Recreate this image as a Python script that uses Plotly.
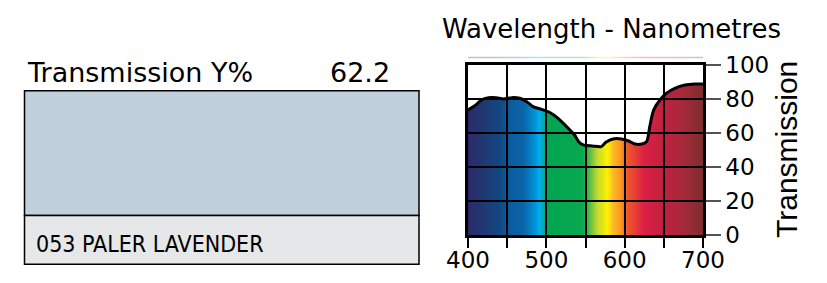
import plotly.graph_objects as go

W, H = 827, 283

# ---- data ----
wavelength = [400, 405, 410, 417, 426, 436, 445, 456, 466, 475, 483, 494, 504, 515,
              526, 536, 542, 548, 559, 570, 576, 585, 596, 605, 613, 622, 628, 632,
              637, 645, 653, 664, 677, 690, 700]
transmission = [73.5, 75.0, 76.5, 79.4, 80.8, 80.8, 80.0, 80.8, 80.4, 78.4, 75.5, 73.9,
                 72.2, 68.6, 63.7, 58.8, 54.5, 52.9, 52.4, 52.0, 54.5, 56.5, 56.5, 55.3,
                 53.5, 53.5, 54.9, 63.7, 73.5, 79.4, 83.3, 86.3, 88.2, 88.8, 88.8]

spectrum_nm = [400, 440, 450, 470, 485, 490, 497, 500, 545, 552, 565, 578, 585, 595,
               602, 625, 650, 675, 700]
spectrum_colors = ["#2b2a68", "#12477f", "#0a5a9c", "#0b65a8", "#0095d9", "#00aeef",
                   "#00a99d", "#00a651", "#0aa850", "#39b54a", "#c4d92e", "#fff200",
                   "#fdb827", "#f7941d", "#f15a29", "#dc1f45", "#c0203f", "#a52a3a",
                   "#7c2e2e"]

x_ticks = [400, 450, 500, 550, 600, 650, 700]
x_labels = ["400", "", "500", "", "600", "", "700"]
y_ticks = [0, 20, 40, 60, 80, 100]
y_labels = ["0", "20", "40", "60", "80", "100"]

title_text = "Wavelength - Nanometres"
y_title = "Transmission"
trans_label = "Transmission Y%"
trans_value = "62.2"
filter_name = "053 PALER LAVENDER"
swatch_color = "#bfcfdc"
name_bg = "#e6e7e9"


def px(x):
    return x / W


def py(y):
    return (H - y) / H


lo, hi = spectrum_nm[0], spectrum_nm[-1]
colorscale = [[(n - lo) / (hi - lo), c] for n, c in zip(spectrum_nm, spectrum_colors)]

fig = go.Figure()

# spectrum background
fig.add_trace(go.Heatmap(
    x=spectrum_nm, y=[0, 100], z=[spectrum_nm, spectrum_nm],
    colorscale=colorscale, zmin=lo, zmax=hi, zsmooth="best",
    showscale=False, hoverinfo="skip", xaxis="x", yaxis="y"))

# white mask above the curve
fig.add_trace(go.Scatter(x=[lo, hi], y=[100, 100], mode="lines",
                         line=dict(width=0), showlegend=False, hoverinfo="skip",
                         xaxis="x", yaxis="y"))
fig.add_trace(go.Scatter(x=wavelength, y=transmission, mode="lines",
                         line=dict(width=0, shape="spline", smoothing=0.8),
                         fill="tonexty", fillcolor="white", showlegend=False,
                         hoverinfo="skip", xaxis="x", yaxis="y"))

# curve on top subplot (above grid)
fig.add_trace(go.Scatter(x=wavelength, y=transmission, mode="lines",
                         line=dict(color="black", width=3, shape="spline", smoothing=0.8),
                         showlegend=False, hoverinfo="skip", xaxis="x2", yaxis="y2"))

# faint spectrum strip above the chart
fig.add_trace(go.Heatmap(
    x=spectrum_nm, y=[0, 1], z=[spectrum_nm, spectrum_nm],
    colorscale=colorscale, zmin=lo, zmax=hi, zsmooth="best", opacity=0.3,
    showscale=False, hoverinfo="skip", xaxis="x3", yaxis="y3"))

xdom = [px(468), px(703)]
ydom = [py(235), py(65)]

hidden = dict(showgrid=False, zeroline=False, showticklabels=False, ticks="",
              showline=False, automargin=False)

fig.update_layout(
    width=W, height=H,
    margin=dict(l=0, r=0, t=0, b=0, autoexpand=False),
    paper_bgcolor="white", plot_bgcolor="rgba(0,0,0,0)",
    showlegend=False,
    xaxis=dict(domain=xdom, range=[400, 700], anchor="y", **hidden),
    yaxis=dict(domain=ydom, range=[0, 100], anchor="x", **hidden),
    xaxis3=dict(domain=xdom, range=[400, 700], anchor="y3", **hidden),
    yaxis3=dict(domain=[py(58.5), py(56.5)], range=[0, 1], anchor="x3", **hidden),
    xaxis2=dict(domain=xdom, range=[400, 700], anchor="y2", automargin=False,
                tickvals=x_ticks, ticktext=x_labels,
                ticks="outside", ticklen=10, tickwidth=1.5, tickcolor="black",
                ticklabelstandoff=-7,
                showgrid=True, gridcolor="black", gridwidth=1.8,
                showline=True, linecolor="black", linewidth=2.5, mirror=True,
                zeroline=False,
                tickfont=dict(family="DejaVu Sans", size=23, color="black")),
    yaxis2=dict(domain=ydom, range=[0, 100], anchor="x2", side="right", automargin=False,
                tickvals=y_ticks, ticktext=y_labels,
                ticks="outside", ticklen=15, tickwidth=1.5, tickcolor="#555555",
                showgrid=True, gridcolor="black", gridwidth=1.8,
                showline=True, linecolor="black", linewidth=2.5, mirror=True,
                zeroline=False,
                tickfont=dict(family="DejaVu Sans", size=23, color="black")),
)

# left panel
fig.add_shape(type="rect", xref="paper", yref="paper",
              x0=px(24.5), x1=px(419), y0=py(215.5), y1=py(90.7),
              fillcolor=swatch_color, line=dict(color="black", width=1.5))
fig.add_shape(type="rect", xref="paper", yref="paper",
              x0=px(24.5), x1=px(419), y0=py(264.3), y1=py(215.5),
              fillcolor=name_bg, line=dict(color="black", width=1.5))

fig.add_annotation(text=trans_label, xref="paper", yref="paper",
                   x=px(25), y=py(73), xanchor="left", yanchor="middle",
                   showarrow=False, font=dict(family="DejaVu Sans", size=27, color="black"))
fig.add_annotation(text=trans_value, xref="paper", yref="paper",
                   x=px(392), y=py(73), xanchor="right", yanchor="middle",
                   showarrow=False, font=dict(family="DejaVu Sans", size=27, color="black"))
fig.add_annotation(text=filter_name, xref="paper", yref="paper",
                   x=px(34), y=py(243.5), xanchor="left", yanchor="middle",
                   showarrow=False,
                   font=dict(family="DejaVu Sans Condensed, Liberation Sans Narrow, sans-serif",
                             size=23, color="black"))
fig.add_annotation(text=title_text, xref="paper", yref="paper",
                   x=px(611.5), y=py(29), xanchor="center", yanchor="middle",
                   showarrow=False, font=dict(family="DejaVu Sans", size=26, color="black"))
fig.add_annotation(text=y_title, xref="paper", yref="paper",
                   x=px(786), y=py(150), xanchor="center", yanchor="middle",
                   textangle=-90, showarrow=False,
                   font=dict(family="Liberation Sans", size=30, color="black"))

fig.write_html("out.html")
